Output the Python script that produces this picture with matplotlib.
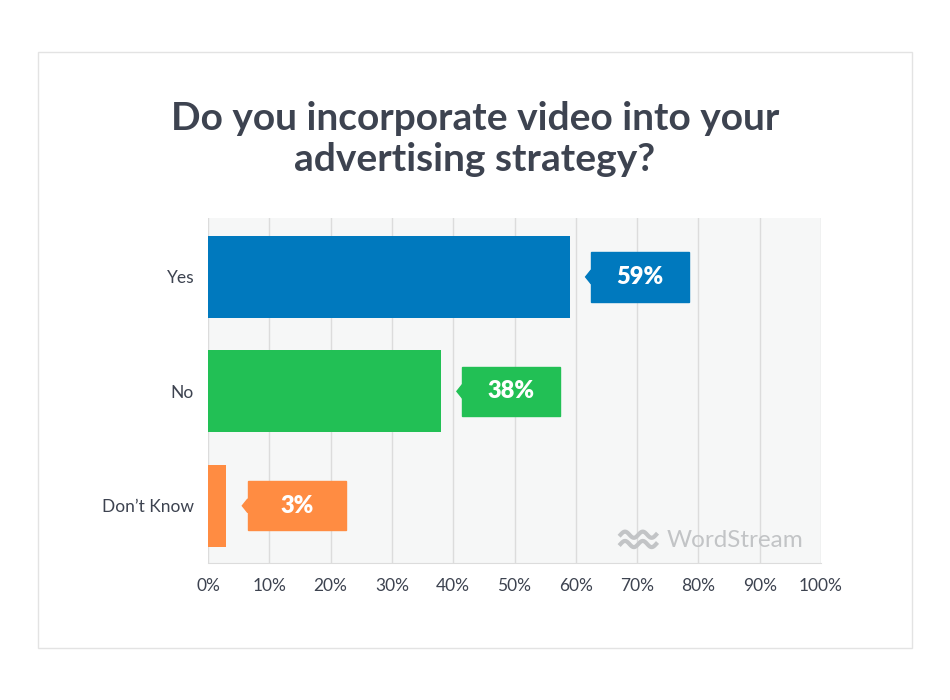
import matplotlib.pyplot as plt
from matplotlib.patches import Rectangle, Polygon
import numpy as np

plt.rcParams['font.family'] = ['Lato', 'DejaVu Sans']

categories = ["Yes", "No", "Don\u2019t Know"]
values = [59, 38, 3]
colors = ["#0079be", "#22c055", "#ff8c42"]
ticks = list(range(0, 101, 10))
tick_labels = [f"{t}%" for t in ticks]
title = "Do you incorporate video into your\nadvertising strategy?"

fig = plt.figure(figsize=(9.5, 7), dpi=100)
fig.patch.set_facecolor("white")

# card border
fig.add_artist(Rectangle((38 / 950, 1 - 648 / 700), 874 / 950, 596 / 700,
                         transform=fig.transFigure, fill=False,
                         edgecolor="#e3e3e3", linewidth=1))

fig.text(0.5, 1 - 139 / 700, title, ha="center", va="center",
         fontsize=28, fontweight="bold", color="#3d4350", linespacing=1.2)

ax = fig.add_axes([208 / 950, 1 - 563 / 700, 613 / 950, 345 / 700])
ax.set_facecolor("#f6f7f7")
y = np.arange(len(categories))
ax.barh(y, values, height=0.716, color=colors, zorder=3)
ax.set_xlim(0, 100)
ax.set_ylim(2.5, -0.515)
ax.set_xticks(ticks)
ax.set_xticklabels(tick_labels)
ax.set_yticks(y)
ax.set_yticklabels(categories)
ax.tick_params(axis="both", length=0, labelsize=12.5, colors="#3d4350")
ax.tick_params(axis="x", pad=11)
ax.tick_params(axis="y", pad=10)
ax.grid(axis="x", color="#dcdcdc", linewidth=1, zorder=0)
for s in ["top", "right", "left"]:
    ax.spines[s].set_visible(False)
ax.spines["bottom"].set_color("#dcdcdc")

# callouts
for yi, v, c in zip(y, values, colors):
    x0 = v + 3.5
    w = 16
    h = 0.43
    ax.add_patch(Rectangle((x0, yi - h / 2), w, h, color=c, zorder=4))
    ax.add_patch(Polygon([(x0, yi - 0.06), (x0 - 0.9, yi), (x0, yi + 0.06)],
                         closed=True, color=c, zorder=4))
    ax.text(x0 + w / 2, yi, f"{v}%", ha="center", va="center",
            fontsize=17, fontweight="heavy", color="white", zorder=5)

# watermark
ax.text(0.971, 0.046, "WordStream", transform=ax.transAxes, ha="right",
        va="baseline", fontsize=17.5, color="#c2c4c6", zorder=5)
t = np.linspace(0, 1, 40)
for off in [0.0, 0.027]:
    ax.plot(0.673 + 0.058 * t, 0.055 + off + 0.009 * np.sin(t * 4 * np.pi),
            transform=ax.transAxes, color="#c2c4c6", linewidth=3, zorder=5)

fig.savefig("out.png", dpi=100)
